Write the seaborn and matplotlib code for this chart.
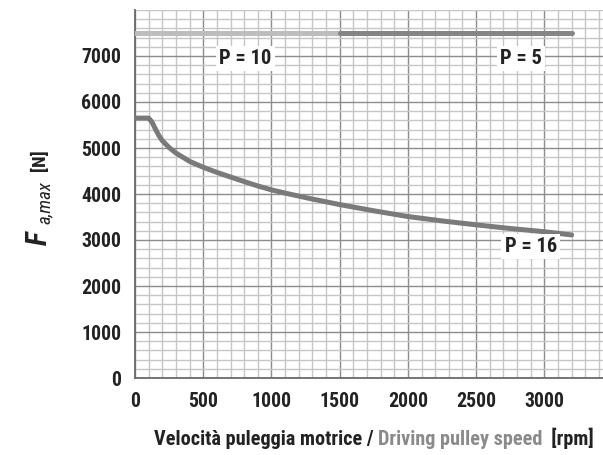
import os
import pandas as pd
import matplotlib
matplotlib.use("Agg")
import matplotlib.pyplot as plt
from matplotlib import font_manager
from matplotlib.font_manager import FontProperties
from matplotlib.ticker import MultipleLocator
from matplotlib.offsetbox import TextArea, HPacker, AnchoredOffsetbox
import seaborn as sns

# Axial load limit vs driving pulley speed
speed_p16 = [0, 100, 125, 150, 175, 200, 250, 300, 400, 500, 600, 700, 800, 900,
             1000, 1100, 1200, 1300, 1400, 1500, 1750, 2000, 2250, 2500, 2750, 3000, 3200]
force_p16 = [5650, 5650, 5560, 5410, 5270, 5160, 5010, 4890, 4710, 4580, 4470, 4370,
             4270, 4175, 4090, 4020, 3955, 3890, 3830, 3770, 3635, 3510, 3415, 3330, 3250,
             3180, 3110]

speed_p10 = [0, 1500]
force_p10 = [7500, 7500]

speed_p5 = [1500, 3200]
force_p5 = [7500, 7500]

x_ticks = [0, 500, 1000, 1500, 2000, 2500, 3000]
y_ticks = [0, 1000, 2000, 3000, 4000, 5000, 6000, 7000]

labels = ["P = 10", "P = 5", "P = 16"]
label_pos = [(810, 6950), (2830, 6950), (2900, 2850)]


def find_font(keys_any, must, avoid):
    files = set(font_manager.findSystemFonts()) | {f.fname for f in font_manager.fontManager.ttflist}
    for key in keys_any:
        for fn in sorted(files):
            base = os.path.basename(fn).lower().replace("_", "").replace(" ", "")
            if key in base and all(m in base for m in must) and not any(a in base for a in avoid):
                return fn
    return None


families = ["robotocondensed", "opensanscondensed", "liberationsansnarrow", "dejavusanscondensed"]
bold_file = find_font(families, ["bold"], ["italic", "oblique"])
ital_file = find_font(families, ["italic"], ["bold", "light", "thin", "medium", "black"]) or \
    find_font(families, ["oblique"], ["bold"])
bold_ital_file = find_font(families, ["bold", "italic"], []) or find_font(families, ["boldoblique"], [])


def fp(path, size, **fallback):
    if path:
        return FontProperties(fname=path, size=size)
    return FontProperties(family="DejaVu Sans", size=size, **fallback)


sns.set_style("white")
plt.rcParams["font.family"] = ["DejaVu Sans"]

TICK = fp(bold_file, 14.3, weight="bold")
LBL = fp(bold_file, 14.8, weight="bold")
TITLE = fp(bold_file, 14.6, weight="bold")
F_BIG = fp(bold_ital_file, 21, weight="bold", style="italic")
SUB = fp(ital_file, 13.5, style="italic")
UNIT = fp(bold_file, 13.5, weight="bold")

W, H = 603, 455
fig = plt.figure(figsize=(W / 100, H / 100), dpi=100)
ax = fig.add_axes([135 / W, (H - 378) / H, (603 - 135) / W, (378 - 10) / H])

ax.set_xlim(0, 3430)
ax.set_ylim(0, 8000)
ax.xaxis.set_major_locator(MultipleLocator(500))
ax.xaxis.set_minor_locator(MultipleLocator(100))
ax.yaxis.set_major_locator(MultipleLocator(1000))
ax.yaxis.set_minor_locator(MultipleLocator(200))
ax.grid(which="minor", color="#c6c6c6", lw=1.0, zorder=0)
ax.grid(which="major", color="#8c8c8c", lw=1.0, zorder=0)
ax.set_axisbelow(True)

for s in ["top", "right"]:
    ax.spines[s].set_visible(False)
for s in ["left", "bottom"]:
    ax.spines[s].set_color("#6a6a6a")
    ax.spines[s].set_linewidth(1.3)

df16 = pd.DataFrame({"speed": speed_p16, "force": force_p16})
df10 = pd.DataFrame({"speed": speed_p10, "force": force_p10})
df5 = pd.DataFrame({"speed": speed_p5, "force": force_p5})
sns.lineplot(data=df10, x="speed", y="force", ax=ax, color="#bdbdbd", lw=3.6,
             solid_capstyle="round", zorder=3)
sns.lineplot(data=df5, x="speed", y="force", ax=ax, color="#858585", lw=3.6,
             solid_capstyle="round", zorder=3)
sns.lineplot(data=df16, x="speed", y="force", ax=ax, color="#7a7a7a", lw=3.6,
             solid_capstyle="round", solid_joinstyle="round", zorder=3)
ax.set_xlabel("")
ax.set_ylabel("")

ax.set_xticks(x_ticks)
ax.set_yticks(y_ticks)
ax.set_xticklabels([str(v) for v in x_ticks])
ax.set_yticklabels([str(v) for v in y_ticks])
ax.tick_params(which="major", direction="out", length=6, width=1, color="#6a6a6a",
               labelcolor="#222222", pad=4)
ax.tick_params(which="minor", length=0)
for t in ax.get_xticklabels() + ax.get_yticklabels():
    t.set_fontproperties(TICK)

for txt, (lx, ly) in zip(labels, label_pos):
    ax.text(lx, ly, txt, ha="center", va="center", fontproperties=LBL,
            color="#222222", zorder=4,
            bbox=dict(boxstyle="square,pad=0.15", fc="white", ec="none"))

# x-axis title with two-tone text
parts = [
    TextArea("Velocità puleggia motrice / ",
             textprops=dict(color="#222222", fontproperties=TITLE)),
    TextArea("Driving pulley speed",
             textprops=dict(color="#8a8a8a", fontproperties=TITLE)),
    TextArea("  [rpm]",
             textprops=dict(color="#222222", fontproperties=TITLE)),
]
box = HPacker(children=parts, align="baseline", pad=0, sep=0)
anch = AnchoredOffsetbox(loc="center", child=box, frameon=False,
                         bbox_to_anchor=(374 / W, 1 - 438 / H),
                         bbox_transform=fig.transFigure, borderpad=0)
fig.add_artist(anch)

# y-axis title built from pieces
fig.text(39 / W, 1 - 238 / H, "F", rotation=90, ha="center", va="center",
         fontproperties=F_BIG, color="#222222")
fig.text(44.5 / W, 1 - 203 / H, "a,max", rotation=90, ha="center", va="center",
         fontproperties=SUB, color="#222222")
fig.text(40 / W, 1 - 160 / H, "[N]", rotation=90, ha="center", va="center",
         fontproperties=UNIT, color="#222222")

fig.savefig("out.png", dpi=100)
